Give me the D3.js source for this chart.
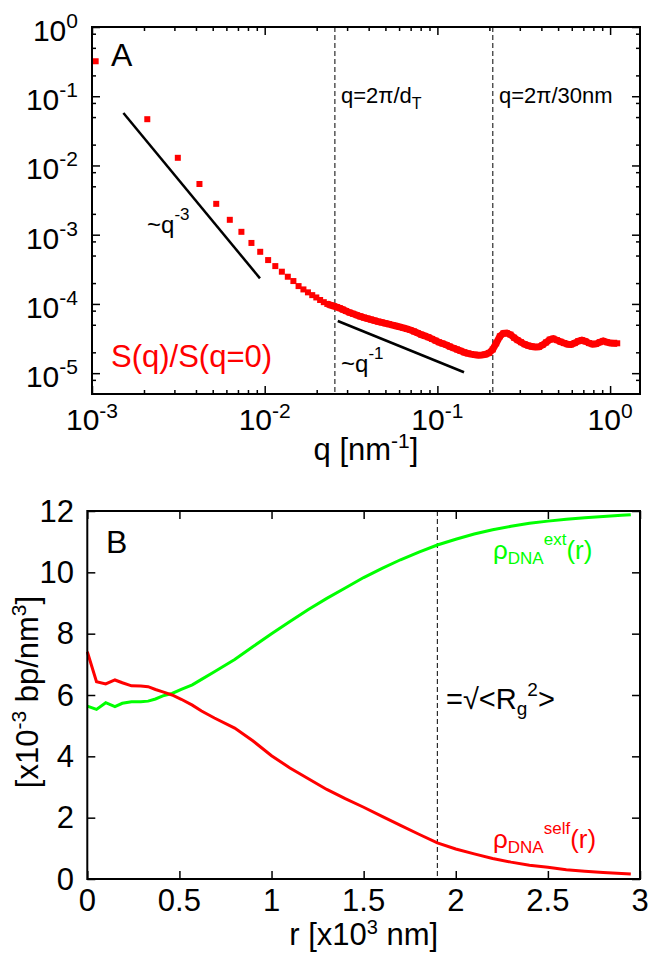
<!DOCTYPE html>
<html><head><meta charset="utf-8">
<script src="https://cdn.jsdelivr.net/npm/d3@7"></script>
<style>body{margin:0;background:#fff} svg{display:block} text{font-family:"Liberation Sans",Arial,Helvetica,sans-serif;fill:#000}</style>
</head><body><svg id="c" width="651" height="953"></svg>
<script>
// ---------- Panel A data ----------
const qSparse = [0.00105,0.00209,0.00314,0.00419,0.00524,0.00628,0.00733,0.00838,0.00942,0.01047,0.01152,0.01257,0.01361,0.01466,0.01571,0.01676,0.0178,0.01885,0.0199,0.02094,0.02199,0.02304,0.02409,0.02513,0.02618];
const sSparse = [0.32,0.0466,0.0129,0.0054,0.00279,0.00164,0.0011,0.00076,0.000566,0.00043,0.000352,0.000292,0.000247,0.000214,0.000181,0.000162,0.000147,0.000134,0.000124,0.000114,0.000106,0.0001,0.000096,0.000093,0.00009];
const qDense = [0.0272,0.0283,0.0296,0.031,0.0325,0.0341,0.0358,0.0376,0.0394,0.0413,0.0433,0.0454,0.0476,0.05,0.0524,0.055,0.0577,0.0605,0.0635,0.0666,0.0698,0.0733,0.0769,0.0806,0.0846,0.0887,0.0931,0.0976,0.102,0.107,0.113,0.118,0.124,0.13,0.136,0.143,0.15,0.157,0.165,0.173,0.181,0.19,0.199,0.209,0.219,0.23,0.241,0.252,0.265,0.278,0.291,0.305,0.32,0.336,0.352,0.37,0.388,0.406,0.426,0.447,0.469,0.492,0.516,0.541,0.567,0.595,0.624,0.654,0.686,0.72,0.755,0.792,0.83,0.871,0.913,0.958,1.005,1.054,1.1];
const sDense = [8.7e-5,8.3e-5,7.9e-5,7.5e-5,7.2e-5,6.9e-5,6.6e-5,6.35e-5,6.15e-5,5.95e-5,5.75e-5,5.55e-5,5.4e-5,5.25e-5,5.1e-5,4.95e-5,4.8e-5,4.65e-5,4.5e-5,4.35e-5,4.2e-5,4.0e-5,3.8e-5,3.6e-5,3.45e-5,3.3e-5,3.12e-5,2.95e-5,2.8e-5,2.68e-5,2.55e-5,2.42e-5,2.3e-5,2.2e-5,2.1e-5,2.0e-5,1.93e-5,1.88e-5,1.84e-5,1.82e-5,1.83e-5,1.87e-5,1.96e-5,2.2e-5,2.7e-5,3.4e-5,3.75e-5,3.8e-5,3.6e-5,3.25e-5,3.0e-5,2.8e-5,2.62e-5,2.5e-5,2.42e-5,2.38e-5,2.4e-5,2.55e-5,2.78e-5,3.05e-5,3.15e-5,3.0e-5,2.85e-5,2.72e-5,2.62e-5,2.6e-5,2.72e-5,2.9e-5,3.0e-5,2.88e-5,2.72e-5,2.62e-5,2.65e-5,2.8e-5,2.92e-5,2.8e-5,2.72e-5,2.7e-5,2.7e-5];
const qMarkers = [0.0255, 0.2094];
const slope3Q = [0.00152, 0.00939], slope3S = [0.0574, 0.000234];
const slope1Q = [0.0265, 0.1426], slope1S = [5.67e-5, 1.03e-5];
const xDecadesA = [-3, -2, -1, 0];
const yDecadesA = [0, -1, -2, -3, -4, -5];

// ---------- Panel B data ----------
const rGrid = [0,0.05,0.1,0.15,0.19,0.24,0.29,0.33,0.37,0.41,0.46,0.51,0.57,0.62,0.69,0.8,0.9,1.0,1.1,1.2,1.3,1.4,1.5,1.6,1.7,1.8,1.9,2.0,2.1,2.2,2.3,2.4,2.5,2.6,2.7,2.8,2.9,2.95];
const rhoSelf = [7.41,6.43,6.36,6.49,6.40,6.30,6.29,6.27,6.18,6.10,6.0,5.86,5.67,5.48,5.25,4.92,4.5,4.02,3.62,3.27,2.92,2.62,2.34,2.04,1.75,1.46,1.18,0.98,0.82,0.67,0.55,0.45,0.38,0.3,0.25,0.21,0.18,0.16];
const rhoExt = [5.64,5.53,5.75,5.62,5.73,5.78,5.78,5.80,5.87,5.97,6.05,6.18,6.33,6.51,6.76,7.16,7.58,8.0,8.4,8.79,9.15,9.49,9.83,10.13,10.41,10.66,10.89,11.08,11.25,11.39,11.5,11.6,11.67,11.73,11.78,11.82,11.86,11.88];
const rMarker = 1.9;
const xTicksB = [0,0.5,1,1.5,2,2.5,3];
const xTickLabelsB = ["0","0.5","1","1.5","2","2.5","3"];
const yTicksB = [0,2,4,6,8,10,12];

const RED = "#ff0000", GREEN = "#00ff00";
const svg = d3.select("#c");

function rich(sel, x, y, parts, size, small, anchor, color) {
  const t = sel.append("text").attr("x", x).attr("y", y)
    .attr("text-anchor", anchor || "start").style("fill", color || "#000");
  let cur = 0;
  parts.forEach(([s, shift]) => {
    t.append("tspan").text(s).attr("dy", shift - cur)
      .attr("font-size", shift === 0 ? size : small);
    cur = shift;
  });
  return t;
}

function inwardAxes(g, x, y, L, R, T, B, xMaj, xMin, yMaj, yMin) {
  const mk = (axisFn, scale, vals, size, tr) => {
    const a = axisFn(scale).tickValues(vals).tickSize(-size).tickFormat(() => "");
    const gg = g.append("g").attr("transform", tr).call(a);
    gg.select(".domain").remove();
    gg.selectAll("line").attr("stroke", "#000").attr("stroke-width", 1.5);
    gg.selectAll("text").remove();
  };
  [[xMaj, 8], [xMin, 4]].forEach(([v, s]) => {
    if (!v.length) return;
    mk(d3.axisBottom, x, v, s, `translate(0,${B})`);
    mk(d3.axisTop, x, v, s, `translate(0,${T})`);
  });
  [[yMaj, 8], [yMin, 4]].forEach(([v, s]) => {
    if (!v.length) return;
    mk(d3.axisLeft, y, v, s, `translate(${L},0)`);
    mk(d3.axisRight, y, v, s, `translate(${R},0)`);
  });
  g.append("rect").attr("x", L).attr("y", T).attr("width", R - L).attr("height", B - T)
    .attr("fill", "none").attr("stroke", "#000").attr("stroke-width", 2);
}

// ================= Panel A =================
{
  const L = 92, R = 640, T = 27, B = 394;
  const x = d3.scaleLog().domain([1e-3, 1.49]).range([L, R]);
  const y = d3.scaleLog().domain([5e-6, 1]).range([B, T]);
  const g = svg.append("g");

  const xMaj = xDecadesA.map(d => Math.pow(10, d));
  const xMin = [];
  xDecadesA.forEach(d => { for (let m = 2; m <= 9; m++) { const v = m * Math.pow(10, d); if (v < 1.49) xMin.push(v); } });
  const yMaj = yDecadesA.map(d => Math.pow(10, d));
  const yMin = [];
  [-6, -5, -4, -3, -2, -1].forEach(d => [2, 5, 8].forEach(m => { const v = m * Math.pow(10, d); if (v > 5.01e-6 && v < 1) yMin.push(v); }));

  qMarkers.forEach(q => g.append("line").attr("x1", x(q)).attr("x2", x(q)).attr("y1", T).attr("y2", B)
    .attr("stroke", "#000").attr("stroke-width", 1).attr("stroke-dasharray", "5,3"));

  [[slope3Q, slope3S], [slope1Q, slope1S]].forEach(([qs, ss]) => {
    g.append("line").attr("x1", x(qs[0])).attr("y1", y(ss[0])).attr("x2", x(qs[1])).attr("y2", y(ss[1]))
      .attr("stroke", "#000").attr("stroke-width", 2.5);
  });

  const pts = qSparse.map((q, i) => [q, sSparse[i]]).concat(qDense.map((q, i) => [q, sDense[i]]));
  const bandPts = pts.filter(p => p[0] > 0.023);
  g.append("path").datum(bandPts)
    .attr("d", d3.line().x(d => x(d[0])).y(d => y(d[1])))
    .attr("fill", "none").attr("stroke", RED).attr("stroke-width", 7);
  g.selectAll("rect.pt").data(pts).enter().append("rect").attr("class", "pt")
    .attr("x", d => x(d[0]) - 3).attr("y", d => y(d[1]) - 3).attr("width", 6).attr("height", 6)
    .attr("fill", RED);

  inwardAxes(g, x, y, L, R, T, B, xMaj, xMin, yMaj, yMin);

  xDecadesA.forEach(d => rich(g, x(Math.pow(10, d)), 430, [["10", 0], [String(d), -12]], 30, 21, "middle"));
  yDecadesA.forEach(d => rich(g, 78, y(Math.pow(10, d)) + 14, [["10", 0], [String(d), -13]], 30, 21, "end"));

  rich(g, 366, 460, [["q [nm", 0], ["-1", -12], ["]", 0]], 31, 21, "middle");

  g.append("text").attr("x", 111).attr("y", 66).attr("font-size", 32).text("A");
  rich(g, 341, 103, [["q=2\u03c0/d", 0], ["T", 6]], 22, 16);
  rich(g, 499, 103, [["q=2\u03c0/30nm", 0]], 22, 16);
  rich(g, 147, 233, [["~q", 0], ["-3", -13]], 24, 17);
  rich(g, 341, 372, [["~q", 0], ["-1", -13]], 24, 17);
  g.append("text").attr("x", 111).attr("y", 367).attr("font-size", 31).style("fill", RED).text("S(q)/S(q=0)");
}

// ================= Panel B =================
{
  const L = 87.3, R = 640, T = 511, B = 879;
  const x = d3.scaleLinear().domain([0, 3]).range([L, R]);
  const y = d3.scaleLinear().domain([0, 12]).range([B, T]);
  const g = svg.append("g");

  g.append("line").attr("x1", x(rMarker)).attr("x2", x(rMarker)).attr("y1", T).attr("y2", B)
    .attr("stroke", "#000").attr("stroke-width", 1).attr("stroke-dasharray", "5,3");

  const line = d3.line().x((d, i) => x(rGrid[i])).y(d => y(d));
  g.append("path").datum(rhoExt).attr("d", line).attr("fill", "none").attr("stroke", GREEN).attr("stroke-width", 3);
  g.append("path").datum(rhoSelf).attr("d", line).attr("fill", "none").attr("stroke", RED).attr("stroke-width", 3);

  inwardAxes(g, x, y, L, R, T, B, xTicksB, [], yTicksB, []);

  xTicksB.forEach((v, i) => g.append("text").attr("x", x(v)).attr("y", 911).attr("text-anchor", "middle")
    .attr("font-size", 31).text(xTickLabelsB[i]));
  yTicksB.forEach(v => g.append("text").attr("x", 74).attr("y", y(v) + 10.5).attr("text-anchor", "end")
    .attr("font-size", 31).text(String(v)));

  rich(g, 363.7, 945, [["r [x10", 0], ["3", -11]], 31, 20, "middle").append("tspan").text(" nm]").attr("dy", 11).attr("font-size", 31);
  const yl = g.append("g").attr("transform", "translate(38,692) rotate(-90)");
  rich(yl, 0, 0, [["[x10", 0], ["-3", -12], [" bp/nm", 0], ["3", -12], ["]", 0]], 31, 21, "middle");

  g.append("text").attr("x", 106).attr("y", 553).attr("font-size", 32).text("B");
  rich(g, 493, 559, [["\u03c1", 0], ["DNA", 5], ["ext", -14], ["(r)", 0]], 26, 17, "start", GREEN);
  rich(g, 493, 848, [["\u03c1", 0], ["DNA", 5], ["self", -14], ["(r)", 0]], 26, 17, "start", RED);
  rich(g, 446, 709, [["=\u221a<R", 0], ["g", 6], ["2", -13], [">", 0]], 29, 19);
}
</script></body></html>
